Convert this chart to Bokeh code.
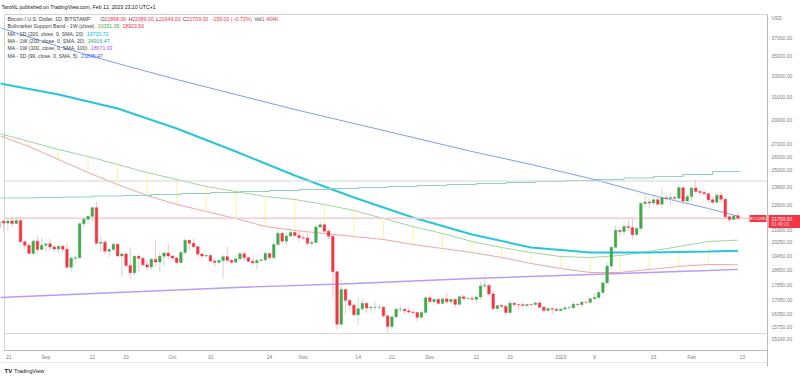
import math
import pandas as pd
from bokeh.plotting import figure
from bokeh.models import Range1d, BoxAnnotation, GlobalInlineStyleSheet
from bokeh.core.properties import value
from bokeh.embed import file_html
from bokeh.resources import INLINE

# ---------------- data ----------------
START = pd.Timestamp("2022-08-21")
candle_start = "2022-08-21"

opens = [
    21130, 21530, 21400, 21530, 21370, 21570, 20250, 20040, 19560, 20290, 19800,
    20050, 20130, 19950, 19830, 19990, 19810, 18790, 19290, 19320, 21360, 21650, 21830, 22400, 20170, 20230,
    19700, 19800, 20110, 19420, 19540, 18880, 18480, 19400, 19290, 18920, 18800, 19230, 19080, 19410, 19590,
    19420, 19310, 19050, 19630, 20340, 20160, 19960, 19530, 19420, 19450, 19130, 19060, 19160, 19380, 19180,
    19070, 19260, 19550, 19330, 19120, 19040, 19170, 19200, 19570, 19330, 20090, 20770, 20290, 20600, 20810, 20630,
    20490, 20480, 20160, 20210, 21150, 21300, 20900, 20590, 18540, 15880, 17590, 17040, 16800, 16330, 16620,
    16890, 16660, 16690, 16700, 16700, 16280, 15780, 16230, 16600, 16600, 16520, 16460, 16440, 16210, 16440,
    17170, 16980, 17090, 16890, 17110, 16970, 17090, 16840, 17220, 17130, 17130, 17090, 17210, 17780, 17810,
    17360, 16630, 16780, 16740, 16440, 16900, 16830, 16820, 16780, 16840, 16830, 16910, 16700, 16540, 16630, 16600,
    16540, 16610, 16670, 16670, 16850, 16830, 16950, 16940, 17120, 17180, 17440, 17940, 18850, 19930, 20950,
    20870, 21180, 21130, 20680, 21070, 22670, 22780, 22710, 22920, 22630, 23060, 23010, 23080, 23030, 23760, 22840,
    23140, 23730, 23490, 23430, 23330, 22930, 22760, 23240, 22960, 21800, 21630, 21868]
highs = [
    21680, 21560, 21660, 21870, 21820, 21800, 20350, 20150, 20390, 20580, 20490,
    20200, 20440, 20050, 20000, 20050, 20180, 19460, 19430, 21450, 21800, 21850, 22480, 22800, 20550, 20350,
    19880, 20180, 20110, 19650, 19630, 19950, 19480, 19490, 19320, 19180, 19310, 20360, 19700, 19650, 20180,
    19480, 19400, 19700, 20460, 20370, 20450, 20060, 19610, 19530, 19520, 19250, 19230, 19500, 19950, 19220,
    19400, 19680, 19700, 19350, 19350, 19250, 19250, 19700, 19600, 20400, 21000, 20860, 20750, 21080, 20930, 20840,
    20690, 20800, 20390, 21300, 21470, 21360, 21060, 20680, 18600, 18150, 17650, 17070, 16900, 17190, 17130,
    16960, 16740, 17000, 16820, 16750, 16290, 16300, 16690, 16800, 16600, 16700, 16600, 16480, 16550, 17250,
    17320, 17100, 17160, 17200, 17420, 17110, 17140, 17300, 17350, 17220, 17270, 17240, 18000, 18400, 17840,
    17530, 16800, 16860, 16810, 17050, 16910, 16860, 16950, 16860, 16860, 16930, 16970, 16780, 16650, 16640, 16640,
    16630, 16770, 16760, 17000, 16880, 17040, 16960, 17180, 17400, 17490, 17990, 19100, 19970, 21250, 21000,
    21470, 21620, 21650, 21180, 22760, 23340, 23060, 23160, 23160, 23790, 23290, 23500, 23180, 23950, 23800, 23310,
    23800, 24250, 23600, 23580, 23430, 23140, 23360, 23450, 22990, 21930, 21900, 22086]
lows = [
    21060, 20890, 20900, 21150, 21320, 20140, 19820, 19560, 19550, 19560, 19780,
    19650, 19760, 19650, 19600, 19640, 18680, 18540, 19020, 19300, 21140, 21370, 21550, 20100, 19650, 19500,
    19330, 19720, 19380, 18260, 18780, 18140, 18360, 18550, 18860, 18640, 18650, 18830, 18500, 18850, 19200,
    19160, 18930, 19000, 19500, 19750, 19860, 19350, 19260, 19330, 19050, 18860, 18960, 18170, 19080, 18970,
    19060, 19150, 19100, 19060, 18900, 18660, 19110, 19080, 19160, 19250, 20060, 20220, 20000, 20560, 20520, 20230,
    20350, 20060, 20050, 20180, 21080, 20900, 20400, 17200, 15600, 15780, 16400, 16550, 16230, 15830, 16550,
    16420, 16400, 16550, 16550, 16180, 15480, 15620, 16170, 16460, 16350, 16400, 16400, 16000, 16110, 16430,
    16860, 16780, 16860, 16880, 16870, 16910, 16680, 16740, 17080, 17090, 17080, 16870, 17080, 17660, 17270,
    16580, 16580, 16660, 16280, 16400, 16730, 16560, 16770, 16760, 16720, 16780, 16600, 16470, 16480, 16330, 16490,
    16490, 16550, 16600, 16660, 16750, 16670, 16900, 16910, 17100, 17150, 17320, 17920, 18720, 19900, 20580,
    20620, 20880, 20400, 20660, 20880, 22430, 22330, 22520, 22480, 22330, 22840, 22550, 22880, 22990, 22560, 22720,
    22770, 23370, 23240, 23260, 22770, 22630, 22750, 22680, 21700, 21450, 21600, 21649]
closes = [
    21530, 21400, 21530, 21370, 21570, 20250, 20040, 19560, 20290, 19800, 20050,
    20130, 19950, 19830, 19990, 19810, 18790, 19290, 19320, 21360, 21650, 21830, 22400, 20170, 20230, 19700,
    19800, 20110, 19420, 19540, 18880, 18480, 19400, 19290, 18920, 18800, 19230, 19080, 19410, 19590, 19420,
    19310, 19050, 19630, 20340, 20160, 19960, 19530, 19420, 19450, 19130, 19060, 19160, 19380, 19180, 19070,
    19260, 19550, 19330, 19120, 19040, 19170, 19200, 19570, 19330, 20090, 20770, 20290, 20600, 20810, 20630, 20490,
    20480, 20160, 20210, 21150, 21300, 20900, 20590, 18540, 15880, 17590, 17040, 16800, 16330, 16620, 16890,
    16660, 16690, 16700, 16700, 16280, 15780, 16230, 16600, 16600, 16520, 16460, 16440, 16210, 16440, 17170,
    16980, 17090, 16890, 17110, 16970, 17090, 16840, 17220, 17130, 17130, 17090, 17210, 17780, 17810, 17360,
    16630, 16780, 16740, 16440, 16900, 16830, 16820, 16780, 16840, 16830, 16910, 16700, 16540, 16630, 16600, 16540,
    16610, 16670, 16670, 16850, 16830, 16950, 16940, 17120, 17180, 17440, 17940, 18850, 19930, 20950, 20870,
    21180, 21130, 20680, 21070, 22670, 22780, 22710, 22920, 22630, 23060, 23010, 23080, 23030, 23760, 22840, 23140,
    23730, 23490, 23430, 23330, 22930, 22760, 23240, 22960, 21800, 21630, 21860, 21709]

# MA 3D (99) and MA 1D (200): read every two weeks
ma_dates = ["2022-08-21", "2022-09-04", "2022-09-18", "2022-10-02", "2022-10-16", "2022-10-30",
            "2022-11-13", "2022-11-27", "2022-12-11", "2022-12-25", "2023-01-08", "2023-01-22",
            "2023-02-05", "2023-02-12"]
ma3d_99 = [38108, 36031, 34269, 32689, 31274, 29920, 28711, 27547, 26433, 25439, 24410, 23284,
           22342, 21845.47]
ma1d_200 = [32305, 31274, 30008, 28289, 26433, 24626, 23079, 21757, 20693, 19914, 19623, 19623,
            19681, 19720.72]

# Bull market support band (weekly, Sundays)
band_dates = [str((START + pd.Timedelta(days=7 * k)).date()) for k in range(26)]
band_upper = [27874, 27225, 26590, 26046, 25439, 24845, 24338, 23840, 23491, 23147, 22943, 22607,
              22211, 21693, 21187, 20754, 20270, 19914, 19623, 19392, 19335, 19449, 19681, 19973,
              20270, 20351.95]
band_lower = [27710, 26826, 25816, 24845, 23981, 23215, 22607, 22145, 21693, 21187, 20938, 20754,
              20571, 20390, 20091, 19855, 19623, 19335, 18996, 18718, 18499, 18499, 18663, 18829,
              18940, 18923.50]

# MA 1W (200): weekly steps starting Mondays
w200_dates = [str((pd.Timestamp("2022-08-15") + pd.Timedelta(days=7 * k)).date()) for k in range(26)]
ma1w_200 = [23045, 23045, 23079, 23113, 23181, 23215, 23284, 23353, 23422, 23491, 23560, 23630,
            23700, 23770, 23840, 23910, 23981, 24052, 24123, 24194, 24266, 24338, 24446, 24554,
            24699, 24916.47]

# MA 1W (300)
w300_dates = ["2022-08-21", "2022-09-18", "2022-10-16", "2022-11-13", "2022-12-11", "2023-01-08",
              "2023-02-05", "2023-02-12"]
ma1w_300 = [17184, 17439, 17698, 17908, 18174, 18390, 18608, 18671.93]

# horizontal levels and last price
levels = [24230, 15445]
last_price = 21709.00

price_ticks = [37000, 35000, 33000, 31000, 29000, 27000, 26000, 25000, 23800, 22600, 21000,
               20250, 19450, 18650, 17850, 17050, 16350, 15750, 15190]
time_tick_dates = ["2022-09-01", "2022-09-12", "2022-09-20", "2022-10-01", "2022-10-10",
                   "2022-10-24", "2022-11-01", "2022-11-14", "2022-11-22", "2022-12-01",
                   "2022-12-12", "2022-12-20", "2023-01-01", "2023-01-09", "2023-01-23",
                   "2023-02-01", "2023-02-13"]
time_tick_labels = ["Sep", "12", "20", "Oct", "10", "24", "Nov", "14", "22", "Dec", "12", "20",
                    "2023", "9", "23", "Feb", "13"]

# ---------------- layout ----------------
W, H = 800, 378
FL, FR, FT, FB = 4, 767, 14, 350   # chart pane edges (pixels)
PPD = 4.22          # pixels per day
X_D0 = -1.06        # pixel of day 0
V_REF, Y_REF, PPL = 37000.0, 37.0, 339.0
FONT = "Liberation Sans"
AXC = "#7a7d86"
BORDER = "#d0d3d9"


def day(s):
    return (pd.Timestamp(s) - START).days


def dx(px):
    return (px - X_D0) / PPD


def vy(py):
    return V_REF * math.exp(-(py - Y_REF) / PPL)


p = figure(width=W, height=H, x_range=Range1d(dx(0), dx(W)), y_range=Range1d(vy(H), vy(0)),
           y_axis_type="log", x_axis_location=None, y_axis_location=None,
           output_backend="svg", toolbar_location=None,
           min_border_left=0, min_border_right=0, min_border_top=0, min_border_bottom=0)
p.stylesheets = [GlobalInlineStyleSheet(css="html, body { margin: 0 !important; padding: 0 !important; }")]
p.background_fill_color = "white"
p.border_fill_color = "white"
p.outline_line_color = None
p.grid.visible = False

# pane borders / separators
p.segment(x0=[dx(FL), dx(FL), dx(FL), dx(0)], y0=[vy(FT), vy(FT), vy(FB), vy(362)],
          x1=[dx(FR), dx(FL), dx(FR), dx(FR)], y1=[vy(FT), vy(FB), vy(FB), vy(362)],
          line_color=[BORDER, BORDER, "#b8bbc2", "#e6e7ea"], line_width=1)
p.segment(x0=[dx(FR)], y0=[vy(FT)], x1=[dx(FR)], y1=[vy(366)], line_color="#b8bbc2", line_width=1)

# band fill (weekly vertical strokes) and lines
bd = [day(s) for s in band_dates]
p.segment(x0=bd[:-1], y0=band_upper[:-1], x1=bd[:-1], y1=band_lower[:-1],
          line_color="#fff3a0", line_width=1)
p.line(bd, band_upper, line_color="#9fd4a0", line_width=1)
p.line(bd, band_lower, line_color="#f5a3a3", line_width=1)

# MA 1W 300
p.line([day(s) for s in w300_dates], ma1w_300, line_color="#b79cf7", line_width=1.4)

# MA 1D 200
md = [day(s) for s in ma_dates]
p.line(md, ma1d_200, line_color="#26c6da", line_width=2)

# MA 1W 200 (weekly steps)
wd = [day(s) for s in w200_dates]
p.step(wd + [day("2023-02-12") + 0.5], ma1w_200 + [ma1w_200[-1]], mode="after",
       line_color="#8fd3bf", line_width=1.1)

# MA 3D 99
p.line(md, ma3d_99, line_color="#7c9ef5", line_width=1)

# levels and last price line (pane width only)
p.segment(x0=[dx(FL)] * len(levels), y0=levels, x1=[dx(FR)] * len(levels), y1=levels,
          line_color="#d4d4d4", line_width=1)
p.segment(x0=[dx(FL)], y0=[last_price], x1=[dx(FR)], y1=[last_price],
          line_color="#f9cace", line_width=1.5)

# candles
cd = [(d - START).days for d in pd.date_range(candle_start, periods=len(closes), freq="D")]
up = [c >= o for o, c in zip(opens, closes)]
body_col = ["#43a94b" if u else "#f23645" for u in up]
wick_col = ["#b7d0d6" if u else "#f7b3ba" for u in up]
p.segment(x0=cd, y0=lows, x1=cd, y1=highs, line_color=wick_col, line_width=0.8)
p.vbar(x=cd, width=0.62, top=[max(o, c) for o, c in zip(opens, closes)],
       bottom=[min(o, c) for o, c in zip(opens, closes)],
       fill_color=body_col, line_color=body_col, line_width=0.4)

# ---------------- axis texts ----------------
p.text(x=[dx(771)] * len(price_ticks), y=price_ticks, text=[f"{t:.2f}" for t in price_ticks],
       text_font=value(FONT), text_font_size="5px", text_color=AXC, text_baseline="middle")
tpos = [day(s) for s in time_tick_dates]
p.text(x=tpos, y=[vy(356)] * len(tpos), text=time_tick_labels, text_font=value(FONT),
       text_font_size="5px", text_color=AXC, text_baseline="middle", text_align="center")

# ---------------- legend & other texts ----------------
CW = {}
for ch in "0123456789":
    CW[ch] = 0.556
CW.update({".": 0.278, ",": 0.278, " ": 0.278, "(": 0.333, ")": 0.333, "-": 0.333, "\u2212": 0.584,
           "%": 0.889, "/": 0.278, ":": 0.278, "+": 0.584,
           "A": 0.667, "B": 0.667, "C": 0.722, "D": 0.722, "H": 0.722, "I": 0.278, "K": 0.667,
           "L": 0.556, "M": 0.833, "O": 0.778, "P": 0.667, "S": 0.667, "T": 0.611, "U": 0.722,
           "V": 0.667, "W": 0.944, "N": 0.722, "a": 0.556, "c": 0.5, "d": 0.556, "e": 0.556,
           "i": 0.222, "k": 0.5, "l": 0.222, "m": 0.833, "n": 0.556, "o": 0.556, "p": 0.556,
           "r": 0.333, "s": 0.5, "t": 0.278, "u": 0.556})


def tw(s, size):
    return sum(CW.get(ch, 0.55) for ch in s) * size


def txt(px, py, text, color, size=5.2, style="normal", align="left"):
    p.text(x=[dx(px)], y=[vy(py)], text=[text], text_color=color, text_font=value(FONT),
           text_font_size=f"{size}px", text_font_style=style, text_align=align,
           text_baseline="middle")


def row(px, py, parts, size=5.2, gap=3.0):
    x = px
    for text, color, g in parts:
        txt(x, py, text, color, size)
        x += tw(text, size) + (gap if g else 0)


DARK = "#3b3e46"
RED = "#f23645"
LS = 5.2
txt(1, 6, "TaroNL published on TradingView.com, Feb 12, 2023 23:10 UTC+1", "#131722", LS)
txt(7, 18.3, "Bitcoin / U.S. Dollar, 1D, BITSTAMP", DARK, LS)
row(100, 18.3, [("O", DARK, False), ("21868.00", RED, True), ("H", DARK, False),
                ("22086.00", RED, True), ("L", DARK, False), ("21649.00", RED, True),
                ("C", DARK, False), ("21709.00", RED, True),
                ("\u2212159.00 (\u22120.73%)", RED, True), ("Vol", DARK, False),
                ("1.404K", RED, False)], size=LS, gap=2.2)
leg_rows = [
    (25.5, "Bullmarket Support Band - 1W (close)", [("20351.95", "#4caf50"), ("18923.50", RED)]),
    (33.0, "MA - 1D (200, close, 0, SMA, 20)", [("19720.72", "#00bcd4")]),
    (40.3, "MA - 1W (200, close, 0, SMA, 20)", [("24916.47", "#26a69a")]),
    (47.7, "MA - 1W (300, close, 0, SMA, 100)", [("18671.93", "#9c5cf0")]),
    (55.0, "MA - 3D (99, close, 0, SMA, 5)", [("21845.47", "#2962ff")]),
]
for py, title, vals in leg_rows:
    row(7, py, [(title, DARK, True)] + [(v, c, True) for v, c in vals], size=LS, gap=3.0)

txt(771, 17, "USD", AXC, 5)
txt(5.5, 356, "21", AXC, 5)

# price tags
p.add_layout(BoxAnnotation(left=dx(749), right=dx(766), top=vy(214.5), bottom=vy(221.5),
                           fill_color=RED, fill_alpha=1, line_color=None, level="overlay"))
p.add_layout(BoxAnnotation(left=dx(768), right=dx(800), top=vy(214.5), bottom=vy(227.5),
                           fill_color=RED, fill_alpha=1, line_color=None, level="overlay"))
from bokeh.models import Label
for px, py, t, c, s, a in [(757.5, 218, "BTCUSD", "white", "4px", "center"),
                           (771, 218.3, "21709.00", "white", "5px", "left"),
                           (771, 224.2, "01:49:29", "#ffd6da", "4.5px", "left")]:
    p.add_layout(Label(x=dx(px), y=vy(py), text=t, text_color=c, text_font=FONT,
                       text_font_size=s, text_align=a, text_baseline="middle", level="overlay"))

# logo
txt(4, 370, "TV", "#131722", 6, style="bold")
txt(13.5, 370, "TradingView", "#131722", 5.5)

open("out.html", "w").write(file_html(p, INLINE))
